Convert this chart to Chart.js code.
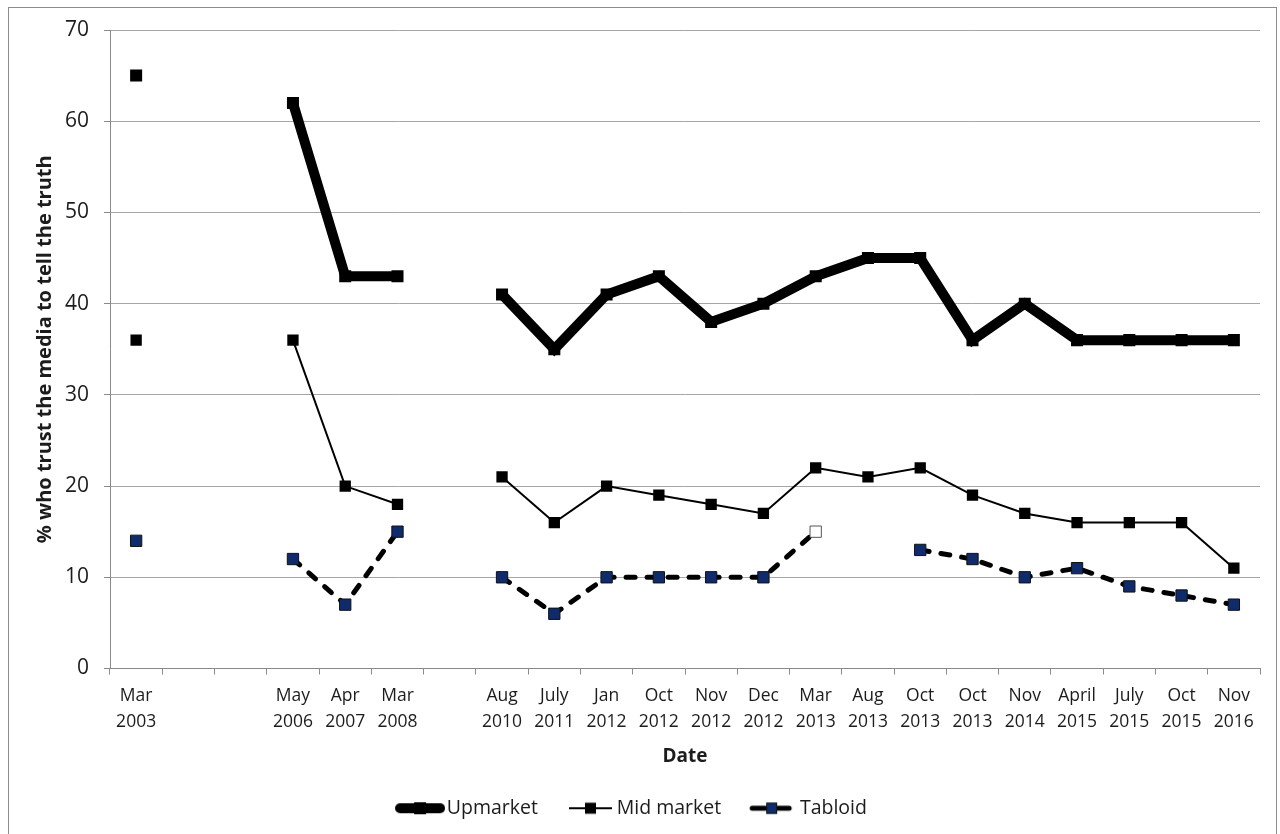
<!DOCTYPE html>
<html>
<head>
<meta charset="utf-8">
<script src="https://cdn.jsdelivr.net/npm/chart.js@4"></script>
<style>
  html, body { margin: 0; padding: 0; background: #fff; }
  #wrap { position: relative; width: 1280px; height: 834px; }
  #c { position: absolute; left: 0; top: 0; }
  #frame { position: absolute; left: 8px; top: 7px; width: 1269px; height: 830px;
           border: 1px solid #8c8c8c; box-sizing: border-box; pointer-events: none; }
</style>
</head>
<body>
<div id="wrap">
  <canvas id="c" width="1280" height="834"></canvas>
  <div id="frame"></div>
</div>
<script>
// Survey dates (blank slots keep the spacing between survey waves)
const categories = [
  ['Mar', '2003'], '', '', ['May', '2006'], ['Apr', '2007'], ['Mar', '2008'], '',
  ['Aug', '2010'], ['July', '2011'], ['Jan', '2012'], ['Oct', '2012'], ['Nov', '2012'],
  ['Dec', '2012'], ['Mar', '2013'], ['Aug', '2013'], ['Oct', '2013'], ['Oct', '2013'],
  ['Nov', '2014'], ['April', '2015'], ['July', '2015'], ['Oct', '2015'], ['Nov', '2016']
];

// % who trust journalists on each paper type to tell the truth
const upmarket  = [65, null, null, 62, 43, 43, null, 41, 35, 41, 43, 38, 40, 43, 45, 45, 36, 40, 36, 36, 36, 36];
const midMarket = [36, null, null, 36, 20, 18, null, 21, 16, 20, 19, 18, 17, 22, 21, 22, 19, 17, 16, 16, 16, 11];
const tabloid   = [14, null, null, 12,  7, 15, null, 10,  6, 10, 10, 10, 10, 15, null, 13, 12, 10, 11,  9,  8,  7];

const yTicks = [0, 10, 20, 30, 40, 50, 60, 70];
const seriesNames = ['Upmarket', 'Mid market', 'Tabloid'];

const FONT = "'Open Sans', 'DejaVu Sans', sans-serif";
const TEXT = '#1c1c1c';
const NAVY = '#0f2b6b';

// Tabloid wave of Mar 2013 is shown with a hollow marker
const hollowIndex = 13;
const tabloidFill = tabloid.map((v, i) => i === hollowIndex ? '#ffffff' : NAVY);
const tabloidEdge = tabloid.map((v, i) => i === hollowIndex ? '#555555' : '#111111');

// Small legend glyphs: line sample with its marker
function legendGlyph(kind) {
  const cv = document.createElement('canvas');
  cv.width = 50; cv.height = 16;
  const g = cv.getContext('2d');
  const cy = 8;
  g.strokeStyle = '#000';
  if (kind === 0) {
    g.lineWidth = 10; g.lineCap = 'round';
    g.beginPath(); g.moveTo(5, cy); g.lineTo(45, cy); g.stroke();
    g.fillStyle = '#000'; g.fillRect(19, cy - 6, 12, 12);
  } else if (kind === 1) {
    g.lineWidth = 2; g.lineCap = 'butt';
    g.beginPath(); g.moveTo(4, cy); g.lineTo(47, cy); g.stroke();
    g.fillStyle = '#000'; g.fillRect(20, cy - 5.5, 11, 11);
  } else {
    g.lineWidth = 5; g.lineCap = 'round';
    g.beginPath(); g.moveTo(4, cy); g.lineTo(17, cy); g.stroke();
    g.beginPath(); g.moveTo(30, cy); g.lineTo(41, cy); g.stroke();
    g.fillStyle = NAVY; g.fillRect(18, cy - 5.5, 11, 11);
    g.lineWidth = 1; g.strokeStyle = '#111'; g.strokeRect(18.5, cy - 5, 10, 10);
  }
  return cv;
}
const glyphs = [legendGlyph(0), legendGlyph(1), legendGlyph(2)];

new Chart(document.getElementById('c'), {
  type: 'line',
  data: {
    labels: categories,
    datasets: [
      {
        label: seriesNames[0],
        data: upmarket,
        borderColor: '#000',
        backgroundColor: '#000',
        borderWidth: 10,
        borderJoinStyle: 'miter',
        borderCapStyle: 'butt',
        pointStyle: 'rect',
        pointRadius: 8.5,
        pointBackgroundColor: '#000',
        pointBorderColor: '#000',
        pointBorderWidth: 0,
        tension: 0,
        spanGaps: false
      },
      {
        label: seriesNames[1],
        data: midMarket,
        borderColor: '#000',
        backgroundColor: '#000',
        borderWidth: 2,
        pointStyle: 'rect',
        pointRadius: 8,
        pointBackgroundColor: '#000',
        pointBorderColor: '#000',
        pointBorderWidth: 0,
        tension: 0,
        spanGaps: false
      },
      {
        label: seriesNames[2],
        data: tabloid,
        borderColor: '#000',
        backgroundColor: NAVY,
        borderWidth: 5,
        borderDash: [9, 12],
        borderCapStyle: 'round',
        pointStyle: 'rect',
        pointRadius: 8,
        pointBackgroundColor: tabloidFill,
        pointBorderColor: tabloidEdge,
        pointBorderWidth: 1,
        tension: 0,
        spanGaps: false
      }
    ]
  },
  options: {
    responsive: false,
    animation: false,
    events: [],
    layout: { padding: { top: 30, right: 20, left: 10, bottom: 6 } },
    plugins: {
      tooltip: { enabled: false },
      title: { display: false },
      legend: {
        display: true,
        position: 'bottom',
        labels: {
          usePointStyle: true,
          pointStyleWidth: 34,
          padding: 35,
          color: TEXT,
          font: { family: FONT, size: 19.5 },
          generateLabels: (chart) => chart.data.datasets.map((ds, i) => ({
            text: ds.label,
            pointStyle: glyphs[i],
            fillStyle: '#000',
            strokeStyle: '#000',
            lineWidth: 0,
            hidden: false,
            datasetIndex: i,
            fontColor: TEXT
          }))
        }
      }
    },
    scales: {
      x: {
        type: 'category',
        offset: true,
        afterFit: (s) => { s.height = 95; },
        grid: {
          offset: true,
          drawOnChartArea: false,
          drawTicks: true,
          tickLength: 6,
          color: '#8a8a8a'
        },
        border: { display: true, color: '#8a8a8a', width: 1 },
        ticks: {
          autoSkip: false,
          maxRotation: 0,
          minRotation: 0,
          padding: 8,
          color: TEXT,
          font: { family: FONT, size: 17.5, lineHeight: 1.5 }
        },
        title: {
          display: true,
          text: 'Date',
          color: TEXT,
          font: { family: FONT, size: 19, weight: 'bold' },
          padding: { top: 0, bottom: -4 }
        }
      },
      y: {
        min: 0,
        max: 70,
        afterFit: (s) => { s.width = 100; },
        afterBuildTicks: (s) => { s.ticks = yTicks.map(v => ({ value: v })); },
        grid: {
          color: '#a6a6a6',
          lineWidth: 1,
          drawTicks: true,
          tickLength: 6,
          tickColor: '#8a8a8a'
        },
        border: { display: true, color: '#8a8a8a', width: 1 },
        ticks: {
          padding: 15,
          color: TEXT,
          font: { family: FONT, size: 21 }
        },
        title: {
          display: true,
          text: '% who trust the media to tell the truth',
          color: TEXT,
          font: { family: FONT, size: 20, weight: 'bold' },
          padding: { top: 23, bottom: 0 }
        }
      }
    }
  }
});
</script>
</body>
</html>
